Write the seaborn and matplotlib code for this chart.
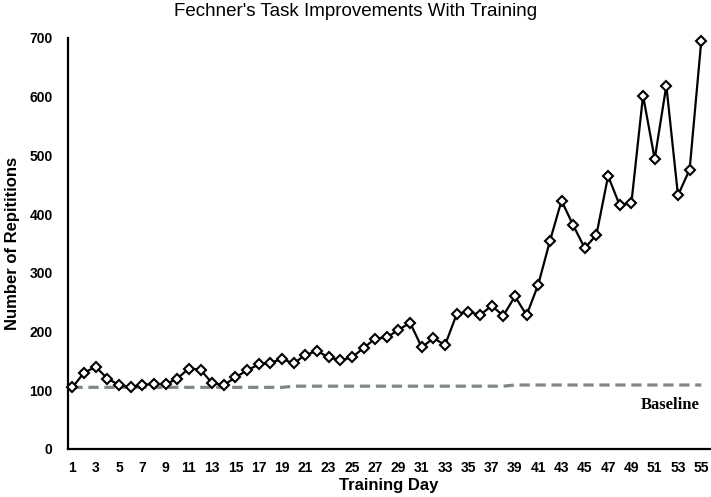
import pandas as pd
import matplotlib
matplotlib.use("Agg")
import matplotlib.pyplot as plt
import seaborn as sns

# values
days = list(range(1, 56))
repetitions = [105, 130, 140, 120, 109, 105, 109, 111, 110, 120,
               137, 135, 112, 109, 122, 134, 144, 147, 153, 146,
               160, 167, 156, 151, 156, 172, 188, 190, 203, 215,
               173, 189, 177, 230, 234, 228, 244, 227, 260, 228,
               280, 354, 423, 381, 342, 365, 465, 415, 419, 602,
               494, 619, 432, 476, 695]
baseline = [105] * 19 + [107] * 19 + [109] * 17
x_ticks = list(range(1, 56, 2))
y_ticks = list(range(0, 701, 100))

df = pd.DataFrame({"day": days, "reps": repetitions, "baseline": baseline})

sns.set_theme(style="white")
plt.rcParams["font.family"] = ["Liberation Sans", "DejaVu Sans"]
plt.rcParams["text.color"] = "black"
plt.rcParams["axes.labelcolor"] = "black"
plt.rcParams["xtick.color"] = "black"
plt.rcParams["ytick.color"] = "black"

fig = plt.figure(figsize=(7.11, 4.97), dpi=100)
ax = fig.add_axes([68 / 711, 48 / 497, 642 / 711, 411 / 497])

# baseline first so the data line sits on top
sns.lineplot(data=df, x="day", y="baseline", ax=ax, color="#7f8787",
             linewidth=2.3, dashes=False, linestyle=(0, (3.2, 1.8)))
sns.lineplot(data=df, x="day", y="reps", ax=ax, color="black", linewidth=1.6,
             marker="D", markersize=5.2, markerfacecolor="white",
             markeredgecolor="black", markeredgewidth=1.5, clip_on=False)

ax.text(52.3, 75, "Baseline", ha="center", va="center", fontsize=12,
        fontweight="bold", family=["Liberation Serif", "DejaVu Serif"])

ax.set_xlim(0.62, 55.75)
ax.set_ylim(0, 700)
ax.set_xticks(x_ticks)
ax.set_yticks(y_ticks)
ax.tick_params(axis="both", length=0, labelsize=10)
ax.tick_params(axis="x", pad=9)
ax.tick_params(axis="y", pad=11)
for lbl in ax.get_xticklabels() + ax.get_yticklabels():
    lbl.set_fontweight("bold")

for side in ["top", "right"]:
    ax.spines[side].set_visible(False)
for side in ["left", "bottom"]:
    ax.spines[side].set_color("black")
    ax.spines[side].set_linewidth(1.6)

ax.set_xlabel("Training Day", fontsize=12, fontweight="bold")
ax.set_ylabel("Number of Repititions", fontsize=12, fontweight="bold")
ax.xaxis.set_label_coords(0.5, -0.09)
ax.xaxis.label.set_va("center")
ax.yaxis.set_label_coords(-0.086, 0.5)
ax.yaxis.label.set_va("center")

fig.text(0.5, 1 - 12 / 497, "Fechner's Task Improvements With Training",
         ha="center", va="center", fontsize=13.5)

fig.savefig("out.png", dpi=100, facecolor="white")
